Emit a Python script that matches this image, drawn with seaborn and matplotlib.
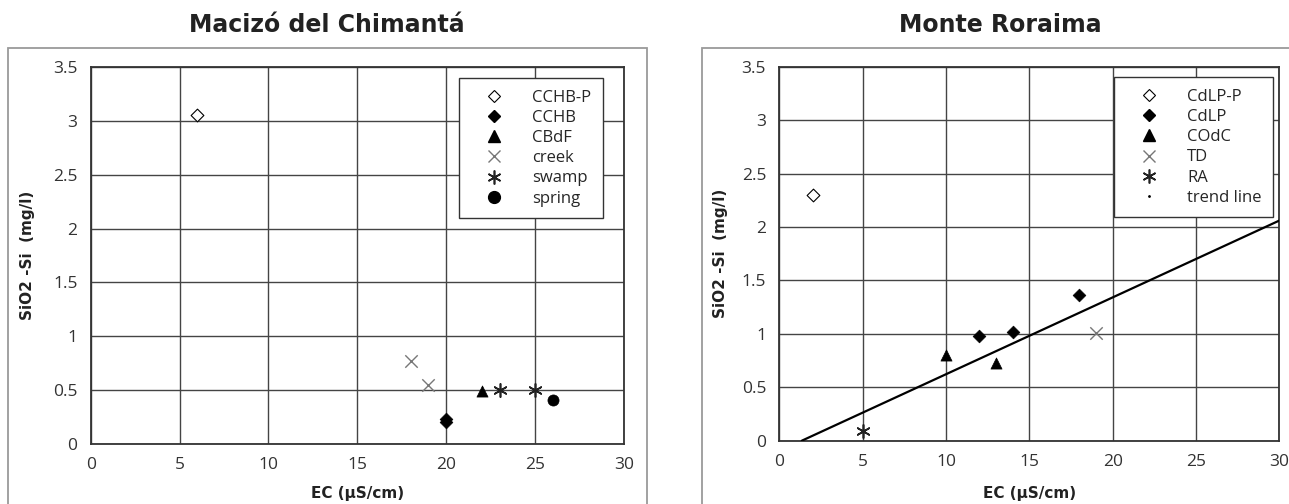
import matplotlib
matplotlib.use("Agg")
import matplotlib.pyplot as plt
from matplotlib.lines import Line2D
from matplotlib.patches import Rectangle
import seaborn as sns
import pandas as pd

# ---------------- data ----------------
# Macizó del Chimantá
chim_cchbp_x = [6]
chim_cchbp_y = [3.05]
chim_cchb_x = [20, 20]
chim_cchb_y = [0.205, 0.23]
chim_cbdf_x = [22]
chim_cbdf_y = [0.49]
chim_creek_x = [18, 19]
chim_creek_y = [0.77, 0.55]
chim_swamp_x = [23, 25]
chim_swamp_y = [0.505, 0.50]
chim_spring_x = [26]
chim_spring_y = [0.41]

# Monte Roraima
ror_cdlpp_x = [2]
ror_cdlpp_y = [2.30]
ror_cdlp_x = [12, 14, 18]
ror_cdlp_y = [0.98, 1.02, 1.36]
ror_codc_x = [10, 13]
ror_codc_y = [0.80, 0.73]
ror_td_x = [19]
ror_td_y = [1.01]
ror_ra_x = [5]
ror_ra_y = [0.095]
trend_x = [1.35, 30]
trend_y = [0.0, 2.06]

x_ticks = [0, 5, 10, 15, 20, 25, 30]
y_ticks = [0, 0.5, 1, 1.5, 2, 2.5, 3, 3.5]
y_tick_labels = ["0", "0.5", "1", "1.5", "2", "2.5", "3", "3.5"]

chim_labels = ["CCHB-P", "CCHB", "CBdF", "creek", "swamp", "spring"]
ror_labels = ["CdLP-P", "CdLP", "COdC", "TD", "RA", "trend line"]

# ---------------- style ----------------
sns.set_style("white")
plt.rcParams["font.family"] = ["DejaVu Sans"]
TICK_FONT = "Open Sans"
GRID = "#444444"
ASTER = (6, 2, 0)

styles = [
    dict(marker="D", s=42, facecolor="white", edgecolor="black", linewidth=0.8),
    dict(marker="D", s=42, color="black", edgecolor="black", linewidth=0.5),
    dict(marker="^", s=64, color="black", edgecolor="black", linewidth=0.5),
    dict(marker="x", s=80, color="#777777", linewidth=1.0),
    dict(marker=ASTER, s=90, color="#222222", linewidth=1.2),
    dict(marker="o", s=64, color="black", edgecolor="black", linewidth=0.5),
]

fig = plt.figure(figsize=(12.89, 5.04), dpi=100)

# outer frames
fig.patches.append(Rectangle((8.3 / 1289, -0.05), (647.3 - 8.3) / 1289, 1.05 - 48.3 / 504,
                             transform=fig.transFigure, fill=False, edgecolor="#9a9a9a",
                             linewidth=1.3, zorder=0))
fig.patches.append(Rectangle((702.3 / 1289, -0.05), 0.5, 1.05 - 48.3 / 504,
                             transform=fig.transFigure, fill=False, edgecolor="#9a9a9a",
                             linewidth=1.3, zorder=0))

ax1 = fig.add_axes([0.0704, 0.1185, 0.4137, 0.7492])
ax2 = fig.add_axes([0.6046, 0.1256, 0.3879, 0.7421])


def draw_series(ax, xs, ys, st):
    df = pd.DataFrame({"x": xs, "y": ys})
    sns.scatterplot(data=df, x="x", y="y", ax=ax, legend=False, zorder=5, **st)


chim_series = [
    (chim_cchbp_x, chim_cchbp_y), (chim_cchb_x, chim_cchb_y), (chim_cbdf_x, chim_cbdf_y),
    (chim_creek_x, chim_creek_y), (chim_swamp_x, chim_swamp_y), (chim_spring_x, chim_spring_y),
]
ror_series = [
    (ror_cdlpp_x, ror_cdlpp_y), (ror_cdlp_x, ror_cdlp_y), (ror_codc_x, ror_codc_y),
    (ror_td_x, ror_td_y), (ror_ra_x, ror_ra_y),
]

for (xs, ys), st in zip(chim_series, styles):
    draw_series(ax1, xs, ys, st)
for (xs, ys), st in zip(ror_series, styles[:5]):
    draw_series(ax2, xs, ys, st)

sns.lineplot(x=trend_x, y=trend_y, ax=ax2, color="black", linewidth=1.6, zorder=4)


def legend_handles(n_markers, with_trend):
    specs = [
        dict(marker="D", markersize=6.5, markerfacecolor="white", markeredgecolor="black", markeredgewidth=0.8),
        dict(marker="D", markersize=6.5, markerfacecolor="black", markeredgecolor="black"),
        dict(marker="^", markersize=8.5, markerfacecolor="black", markeredgecolor="black"),
        dict(marker="x", markersize=9, markeredgecolor="#777777", markeredgewidth=1.0),
        dict(marker=ASTER, markersize=10, markeredgecolor="#222222", markeredgewidth=1.2),
        dict(marker="o", markersize=8.5, markerfacecolor="black", markeredgecolor="black"),
    ]
    hs = [Line2D([], [], linestyle="none", **specs[i]) for i in range(n_markers)]
    if with_trend:
        hs.append(Line2D([], [], linestyle="none", marker=".", markersize=2, color="black"))
    return hs


for ax, labels, handles, anchor in [
    (ax1, chim_labels, legend_handles(6, False), (0.6906, 0.970)),
    (ax2, ror_labels, legend_handles(5, True), (0.669, 0.9717)),
]:
    ax.set_xlim(0, 30)
    ax.set_ylim(0, 3.5)
    ax.set_xticks(x_ticks)
    ax.set_yticks(y_ticks)
    ax.set_yticklabels(y_tick_labels)
    ax.grid(True, color=GRID, linewidth=1.0)
    ax.set_axisbelow(True)
    for sp in ax.spines.values():
        sp.set_color("#333333")
        sp.set_linewidth(1.3)
    ax.tick_params(axis="both", direction="out", length=6.5, width=1.0, color="#444444",
                   labelcolor="#333333", labelsize=12.5, pad=3)
    for lab in ax.get_xticklabels() + ax.get_yticklabels():
        lab.set_fontfamily(TICK_FONT)
    ax.set_xlabel("EC (µS/cm)", fontsize=11, fontweight="bold", color="#222222")
    ax.set_ylabel("SiO2 -Si  (mg/l)", fontsize=11, fontweight="bold", color="#222222")
    leg = ax.legend(handles=handles, labels=labels, loc="upper left", bbox_to_anchor=anchor,
                    frameon=True, fancybox=False, framealpha=1, edgecolor="#333333",
                    prop={"family": TICK_FONT, "size": 12}, handlelength=2.8,
                    handletextpad=0.9, labelspacing=0.25, borderpad=0.7, borderaxespad=0)
    leg.get_frame().set_linewidth(1.0)
    leg.set_zorder(10)

ax1.yaxis.set_label_coords(-0.104, 0.5)
ax1.xaxis.set_label_coords(0.5, -0.110)
ax2.yaxis.set_label_coords(-0.103, 0.5)
ax2.xaxis.set_label_coords(0.5, -0.121)

fig.text(327 / 1289, 1 - 25 / 504, "Macizó del Chimantá", ha="center", va="center",
         fontsize=17, fontweight="bold", color="#222222")
fig.text(1000 / 1289, 1 - 25 / 504, "Monte Roraima", ha="center", va="center",
         fontsize=17, fontweight="bold", color="#222222")

fig.savefig("out.png", dpi=100, facecolor="white")
